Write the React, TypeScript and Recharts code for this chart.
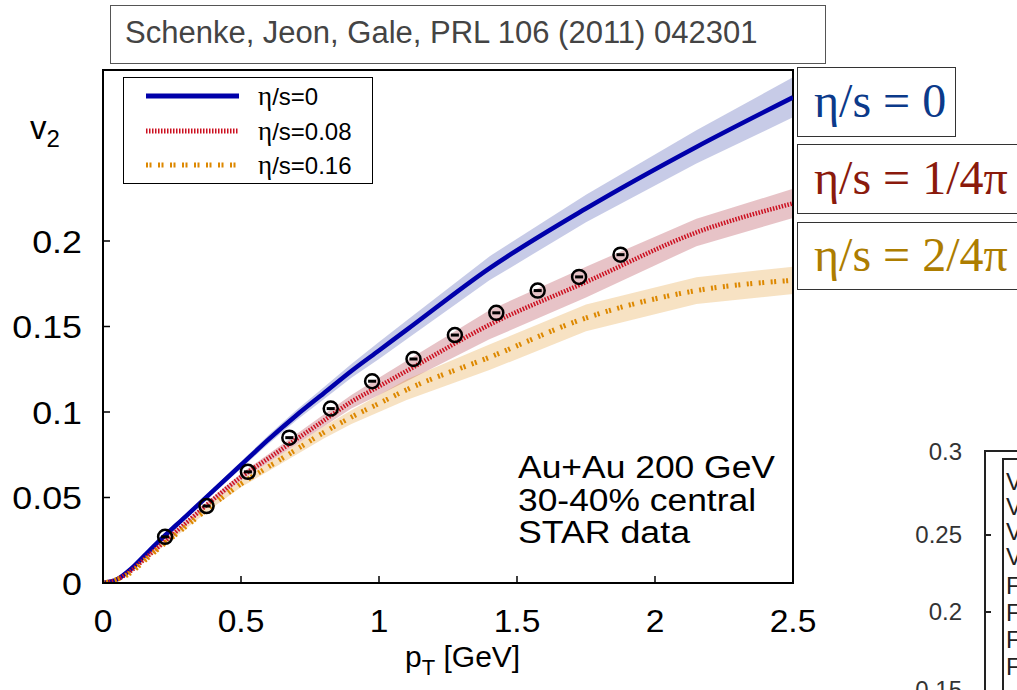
import React from "react";
import {
  Area,
  ComposedChart,
  Line,
  ReferenceArea,
  Scatter,
  XAxis,
  YAxis,
} from "recharts";

// hydro curves (Schenke, Jeon, Gale) sampled in pT
const PT = [0, 0.05, 0.1, 0.15, 0.2, 0.3, 0.4, 0.5, 0.6, 0.7, 0.8, 0.9, 1.0, 1.1, 1.4, 1.75, 2.15, 2.5];
const V2_IDEAL = [0, 0.002, 0.008, 0.016, 0.024, 0.039, 0.054, 0.069, 0.084, 0.098, 0.111, 0.124, 0.136, 0.148, 0.184, 0.219, 0.255, 0.284];
const V2_008 = [0, 0.002, 0.007, 0.014, 0.021, 0.035, 0.049, 0.062, 0.073, 0.084, 0.095, 0.106, 0.115, 0.124, 0.151, 0.176, 0.205, 0.222];
const V2_016 = [0, 0.002, 0.006, 0.013, 0.02, 0.033, 0.046, 0.058, 0.068, 0.078, 0.088, 0.097, 0.105, 0.113, 0.132, 0.155, 0.171, 0.177];
const ERR_IDEAL = [0, 0, 0.0005, 0.0008, 0.001, 0.0013, 0.0016, 0.002, 0.0025, 0.003, 0.0035, 0.004, 0.005, 0.0055, 0.007, 0.008, 0.0097, 0.0117];
const ERR_008 = [0, 0, 0.0005, 0.0008, 0.001, 0.0013, 0.0016, 0.002, 0.0025, 0.003, 0.0035, 0.004, 0.005, 0.006, 0.0085, 0.009, 0.008, 0.0085];
const ERR_016 = [0, 0, 0.0005, 0.0008, 0.001, 0.0013, 0.0016, 0.002, 0.0025, 0.003, 0.0035, 0.004, 0.005, 0.006, 0.0075, 0.0078, 0.0078, 0.008];

// STAR data points
const STAR_PT = [0.225, 0.375, 0.525, 0.675, 0.825, 0.975, 1.125, 1.275, 1.425, 1.575, 1.725, 1.875];
const STAR_V2 = [0.027, 0.045, 0.065, 0.085, 0.102, 0.118, 0.131, 0.145, 0.158, 0.171, 0.179, 0.192];

const X_TICKS = [0, 0.5, 1, 1.5, 2, 2.5];
const Y_TICKS = [0, 0.05, 0.1, 0.15, 0.2];

const SANS = "'Liberation Sans', Arial, sans-serif";
const SERIF = "'Liberation Serif', 'Times New Roman', serif";

const BLUE = "#0000aa";
const RED = "#cc1020";
const ORANGE = "#dd8800";

const curves = PT.map((pT, i) => ({
  pT,
  ideal: V2_IDEAL[i],
  v008: V2_008[i],
  v016: V2_016[i],
  idealBand: [V2_IDEAL[i] - ERR_IDEAL[i], V2_IDEAL[i] + ERR_IDEAL[i]],
  band008: [V2_008[i] - ERR_008[i], V2_008[i] + ERR_008[i]],
  band016: [V2_016[i] - ERR_016[i], V2_016[i] + ERR_016[i]],
}));

const star = STAR_PT.map((pT, i) => ({ pT, v2: STAR_V2[i] }));

// tickSize/tickMargin are 0, so x/y arrive on the axis line; ticks point inward
const XTick = ({ x, y, payload }: any) => (
  <g>
    <line x1={x} x2={x} y1={y} y2={y - 7} stroke="#000" strokeWidth={1.5} />
    <text
      transform={`translate(${x},${y + 49}) scale(1.05,1)`}
      textAnchor="middle"
      fontSize={32}
      fontFamily={SANS}
      fill="#000"
    >
      {String(payload.value)}
    </text>
  </g>
);

const YTick = ({ x, y, payload }: any) => (
  <g>
    <line x1={x} x2={x + 7} y1={y} y2={y} stroke="#000" strokeWidth={1.5} />
    <text
      transform={`translate(${x - 21},${y + 11.5}) scale(1.12,1)`}
      textAnchor="end"
      fontSize={32}
      fontFamily={SANS}
      fill="#000"
    >
      {String(payload.value)}
    </text>
  </g>
);

const StarMark = ({ cx, cy }: any) => (
  <g>
    <circle cx={cx} cy={cy} r={7} fill="none" stroke="#000" strokeWidth={2.5} />
    <rect x={cx - 4} y={cy - 1.5} width={8} height={3} fill="#000" />
  </g>
);

const box = (extra: React.CSSProperties): React.CSSProperties => ({
  position: "absolute",
  boxSizing: "border-box",
  border: "1.5px solid #333",
  background: "#fff",
  ...extra,
});

const App = () => (
  <div style={{ position: "absolute", left: 0, top: 0, width: 1017, height: 690, background: "#fff", overflow: "hidden" }}>
    <ComposedChart
      width={1017}
      height={690}
      data={curves}
      margin={{ top: 70, right: 224, bottom: 47, left: 43 }}
    >
      <XAxis
        type="number"
        dataKey="pT"
        domain={[0, 2.5]}
        ticks={X_TICKS}
        interval={0}
        height={60}
        tickSize={0}
        tickMargin={0}
        tick={<XTick />}
        axisLine={{ stroke: "#000", strokeWidth: 2 }}
        allowDataOverflow
      />
      <YAxis
        type="number"
        domain={[0, 0.3]}
        ticks={Y_TICKS}
        interval={0}
        width={60}
        tickSize={0}
        tickMargin={0}
        tick={<YTick />}
        axisLine={{ stroke: "#000", strokeWidth: 2 }}
        allowDataOverflow
      />
      <Area dataKey="idealBand" stroke="none" fill="#2030a0" fillOpacity={0.25} isAnimationActive={false} />
      <Area dataKey="band008" stroke="none" fill="#a01020" fillOpacity={0.25} isAnimationActive={false} />
      <Area dataKey="band016" stroke="none" fill="#e08a10" fillOpacity={0.25} isAnimationActive={false} />
      <Line dataKey="ideal" type="monotone" stroke={BLUE} strokeWidth={4.5} dot={false} isAnimationActive={false} />
      <Line
        dataKey="v008"
        type="monotone"
        stroke={RED}
        strokeWidth={4.5}
        strokeDasharray="1.5 1.5"
        dot={false}
        isAnimationActive={false}
      />
      <Line
        dataKey="v016"
        type="monotone"
        stroke={ORANGE}
        strokeWidth={5}
        strokeDasharray="2 1.5 2 6.5"
        dot={false}
        isAnimationActive={false}
      />
      <Scatter data={star} dataKey="v2" shape={<StarMark />} isAnimationActive={false} />
      <ReferenceArea x1={0} x2={2.5} y1={0} y2={0.3} fill="none" stroke="#000" strokeWidth={2} />
    </ComposedChart>

    <svg width={1017} height={690} style={{ position: "absolute", left: 0, top: 0, pointerEvents: "none" }}>
      <text x={30} y={139} fontSize={33} fontFamily={SANS} fill="#000">
        v<tspan fontSize={24} dy={8}>2</tspan>
      </text>
      <text x={405} y={667} fontSize={30} fontFamily={SANS} fill="#000">
        p<tspan fontSize={22} dy={8}>T</tspan>
        <tspan dy={-8}> [GeV]</tspan>
      </text>
      <g fontSize={31} fontFamily={SANS} fill="#000">
        <text x={518} y={478} textLength={257} lengthAdjust="spacingAndGlyphs">Au+Au 200 GeV</text>
        <text x={518} y={511} textLength={238} lengthAdjust="spacingAndGlyphs">30-40% central</text>
        <text x={518} y={543} textLength={172} lengthAdjust="spacingAndGlyphs">STAR data</text>
      </g>
      {/* neighbouring figure, cut at the edge */}
      <g fontSize={24} fontFamily={SANS} fill="#333">
        <text x={962} y={460} textAnchor="end">0.3</text>
        <text x={962} y={543} textAnchor="end">0.25</text>
        <text x={962} y={620} textAnchor="end">0.2</text>
        <text x={962} y={698} textAnchor="end">0.15</text>
        <g fill="#222">
          <text x={1006} y={490}>V</text>
          <text x={1006} y={515}>V</text>
          <text x={1006} y={540}>V</text>
          <text x={1006} y={565}>V</text>
          <text x={1006} y={594}>F</text>
          <text x={1006} y={621}>F</text>
          <text x={1006} y={648}>F</text>
          <text x={1006} y={675}>F</text>
        </g>
      </g>
      <path d="M985 690 V451 H1017" fill="none" stroke="#222" strokeWidth={2} />
      <path d="M1003 690 V459 H1017" fill="none" stroke="#222" strokeWidth={2} />
      <line x1={985} x2={991} y1={535} y2={535} stroke="#222" strokeWidth={2} />
      <line x1={985} x2={991} y1={612} y2={612} stroke="#222" strokeWidth={2} />
    </svg>

    {/* in-plot legend */}
    <div style={box({ left: 123, top: 77, width: 250, height: 107, border: "1.5px solid #000" })}>
      <svg width={247} height={104}>
        <line x1={22} x2={115} y1={18} y2={18} stroke={BLUE} strokeWidth={5} />
        <line x1={22} x2={115} y1={53} y2={53} stroke={RED} strokeWidth={5} strokeDasharray="1.5 1.5" />
        <line x1={22} x2={115} y1={87} y2={87} stroke={ORANGE} strokeWidth={5} strokeDasharray="2 1.5 2 6.5" />
        <g fontSize={24} fontFamily={SANS} fill="#000">
          <text x={134} y={27}><tspan fontFamily={SERIF} fontSize={27}>η</tspan>/s=0</text>
          <text x={134} y={62}><tspan fontFamily={SERIF} fontSize={27}>η</tspan>/s=0.08</text>
          <text x={134} y={96}><tspan fontFamily={SERIF} fontSize={27}>η</tspan>/s=0.16</text>
        </g>
      </svg>
    </div>

    {/* reference */}
    <div
      style={box({
        left: 110,
        top: 5,
        width: 716,
        height: 59,
        border: "1.5px solid #555",
        fontFamily: SANS,
        fontSize: 31,
        color: "#444",
        padding: "9px 0 0 14px",
        whiteSpace: "nowrap",
      })}
    >
      Schenke, Jeon, Gale, PRL 106 (2011) 042301
    </div>

    {/* viscosity labels */}
    <div style={box({ left: 797, top: 67, width: 159, height: 70, fontFamily: SERIF, fontSize: 48, color: "#0b3a8a", padding: "5px 0 0 16px", whiteSpace: "nowrap" })}>
      η/s = 0
    </div>
    <div style={box({ left: 797, top: 144, width: 240, height: 70, fontFamily: SERIF, fontSize: 48, color: "#8a1a0c", padding: "5px 0 0 16px", whiteSpace: "nowrap" })}>
      η/s = 1/4π
    </div>
    <div style={box({ left: 797, top: 222, width: 240, height: 68, fontFamily: SERIF, fontSize: 48, color: "#ad7d00", padding: "4px 0 0 16px", whiteSpace: "nowrap" })}>
      η/s = 2/4π
    </div>
  </div>
);

export default App;
